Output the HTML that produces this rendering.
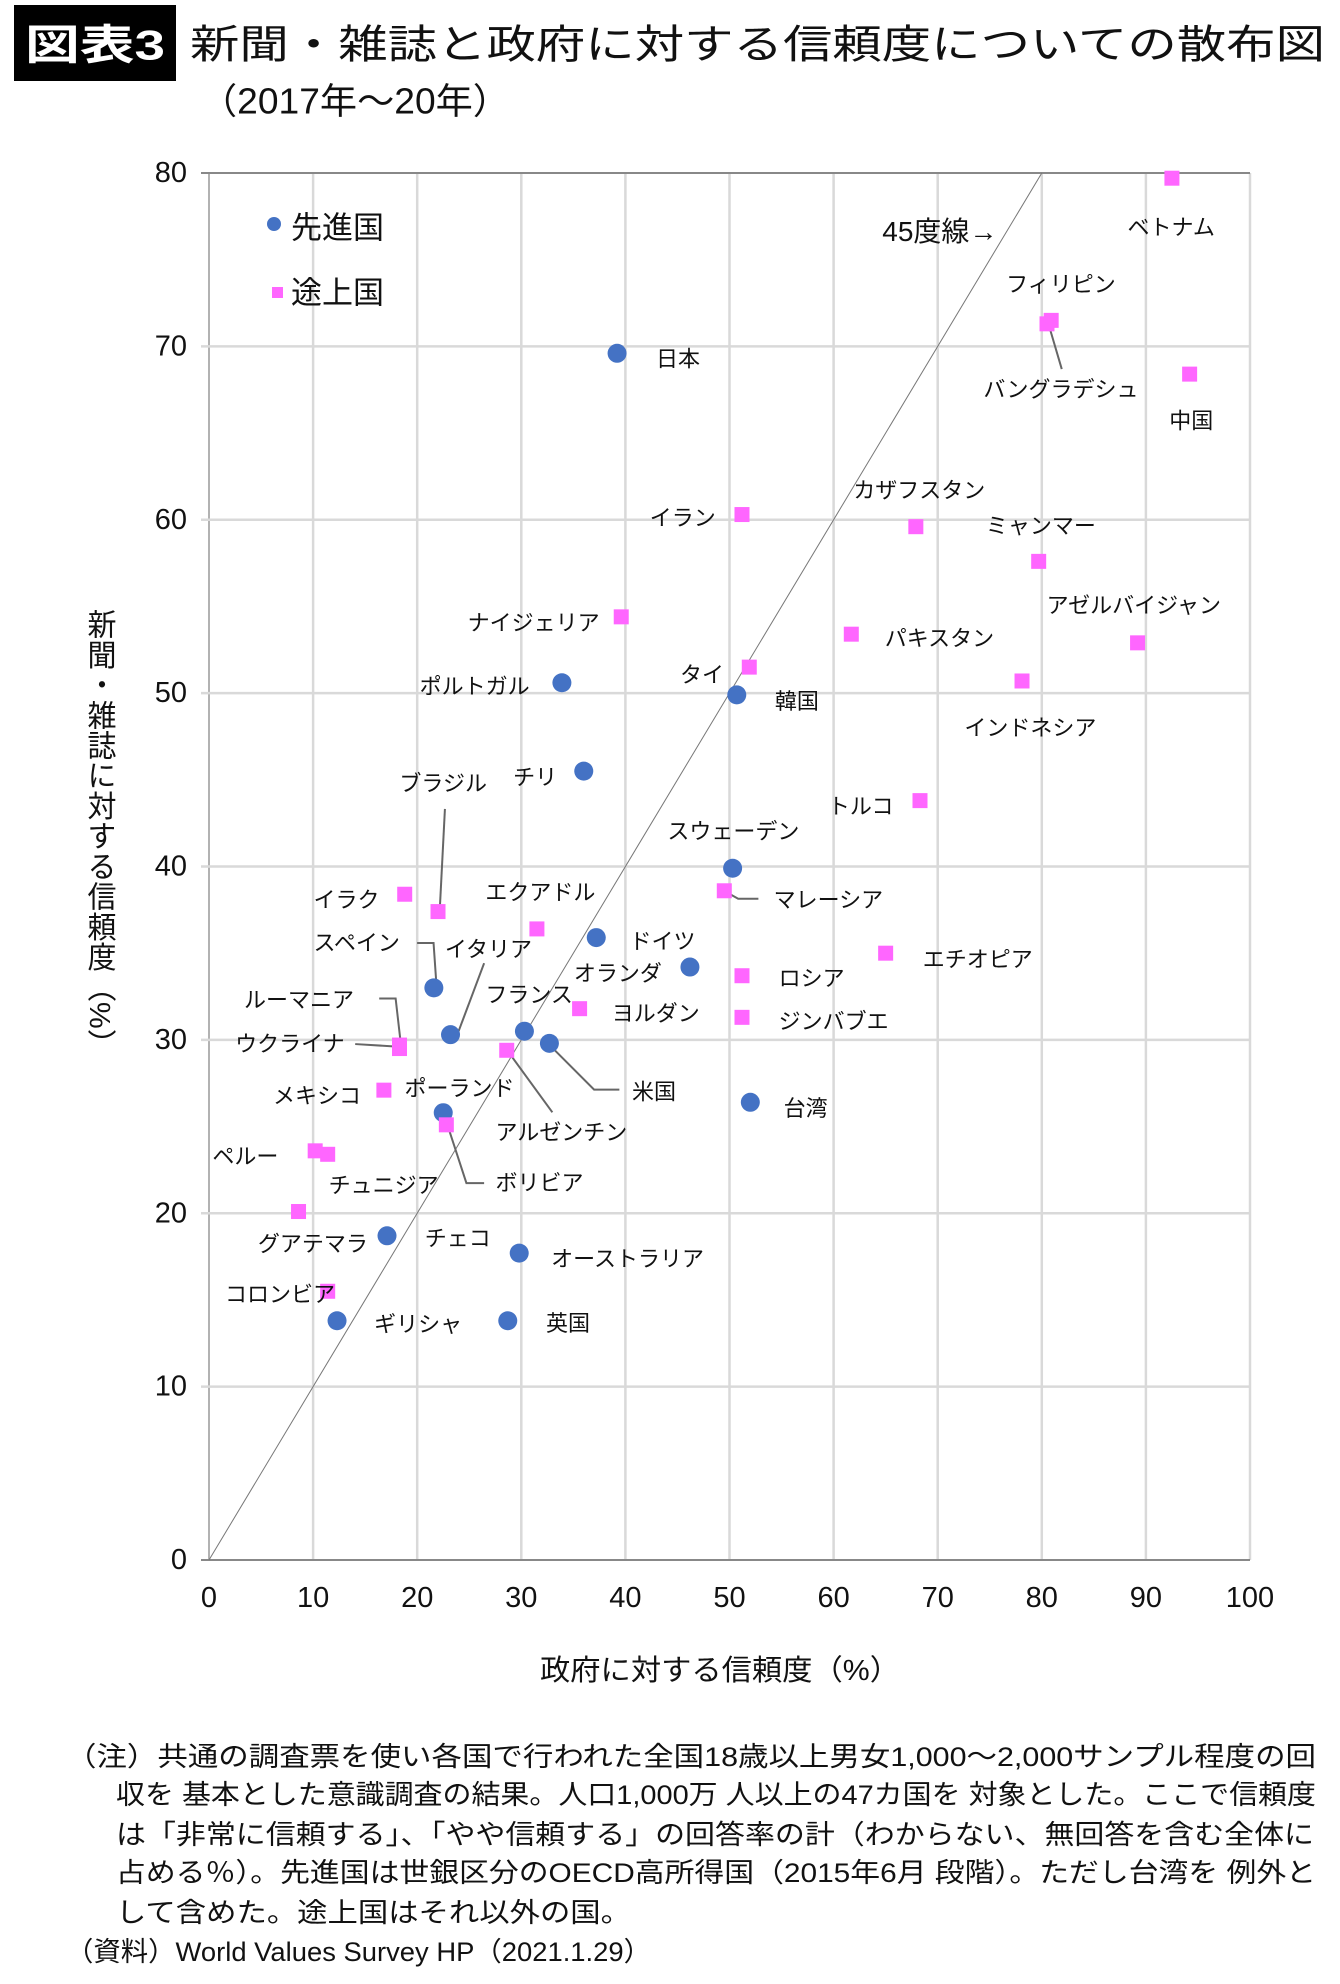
<!DOCTYPE html>
<html><head><meta charset="utf-8">
<style>
html,body{margin:0;padding:0;background:#fff;}
svg{display:block;font-family:"Liberation Sans","Noto Sans CJK JP",sans-serif;}
</style></head>
<body>
<svg id="chart" width="1340" height="1984" viewBox="0 0 1340 1984" xmlns="http://www.w3.org/2000/svg">
<rect x="0" y="0" width="1340" height="1984" fill="#fff"/>
<rect x="14" y="5" width="162" height="76" fill="#000"/>
<text x="95" y="45" fill="#fff" font-size="42" font-weight="bold" text-anchor="middle" dominant-baseline="central" textLength="140" lengthAdjust="spacingAndGlyphs">図表3</text>
<text x="190" y="45" fill="#111" font-size="40" dominant-baseline="central" textLength="1135" lengthAdjust="spacingAndGlyphs">新聞・雑誌と政府に対する信頼度についての散布図</text>
<text x="200" y="101" fill="#111" font-size="36" dominant-baseline="central" textLength="310" lengthAdjust="spacingAndGlyphs">（2017年～20年）</text>
<g id="grid"></g>
<g id="lines"></g>
<g id="marks"></g>
<g id="labels"></g>
<g>
<circle cx="274" cy="224" r="7" fill="#4472C4"/>
<text x="291" y="228" font-size="31" fill="#111" dominant-baseline="central">先進国</text>
<rect x="272" y="287" width="11" height="11" fill="#FF66FF"/>
<text x="291" y="293" font-size="31" fill="#111" dominant-baseline="central">途上国</text>
</g>
<text x="99" y="834" font-size="29" fill="#111" writing-mode="tb" text-anchor="middle" textLength="450" lengthAdjust="spacingAndGlyphs">新聞・雑誌に対する信頼度（%）</text>
<text x="720" y="1671" font-size="29" fill="#111" text-anchor="middle" dominant-baseline="central" textLength="360" lengthAdjust="spacingAndGlyphs">政府に対する信頼度（%）</text>
<g font-size="27" fill="#111">
<text x="66" y="1757" dominant-baseline="central" textLength="1250" lengthAdjust="spacingAndGlyphs">（注）共通の調査票を使い各国で行われた全国18歳以上男女1,000～2,000サンプル程度の回</text>
<text x="116" y="1795" dominant-baseline="central" textLength="1200" lengthAdjust="spacingAndGlyphs">収を 基本とした意識調査の結果。人口1,000万 人以上の47カ国を 対象とした。ここで信頼度</text>
<text x="116" y="1835" dominant-baseline="central" textLength="1198" lengthAdjust="spacingAndGlyphs">は「非常に信頼する」、「やや信頼する」の回答率の計（わからない、無回答を含む全体に</text>
<text x="116" y="1873" dominant-baseline="central" textLength="1200" lengthAdjust="spacingAndGlyphs">占める％）。先進国は世銀区分のOECD高所得国（2015年6月 段階）。ただし台湾を 例外と</text>
<text x="116" y="1913" dominant-baseline="central" textLength="515" lengthAdjust="spacingAndGlyphs">して含めた。途上国はそれ以外の国。</text>
<text x="66" y="1952" dominant-baseline="central" textLength="585" lengthAdjust="spacingAndGlyphs">（資料）World Values Survey HP（2021.1.29）</text>
</g>
</svg>
<script>
// ---- data ----
const developedNames = ["日本","ポルトガル","韓国","チリ","スウェーデン","ドイツ","オランダ","スペイン","イタリア","フランス","米国","台湾","ポーランド","チェコ","オーストラリア","ギリシャ","英国"];
const developedGov   = [39.2,33.9,50.7,36.0,50.3,37.2,46.2,21.6,23.2,30.3,32.7,52.0,22.5,17.1,29.8,12.3,28.7];
const developedPress = [69.6,50.6,49.9,45.5,39.9,35.9,34.2,33.0,30.3,30.5,29.8,26.4,25.8,18.7,17.7,13.8,13.8];
const developingNames = ["ベトナム","フィリピン","バングラデシュ","中国","イラン","カザフスタン","ミャンマー","ナイジェリア","パキスタン","アゼルバイジャン","タイ","インドネシア","トルコ","イラク","ブラジル","マレーシア","エクアドル","エチオピア","ロシア","ヨルダン","ジンバブエ","ルーマニア","ウクライナ","アルゼンチン","メキシコ","ボリビア","ペルー","チュニジア","グアテマラ","コロンビア"];
const developingGov   = [92.5,80.9,80.5,94.2,51.2,67.9,79.7,39.6,61.7,89.2,51.9,78.1,68.3,18.8,22.0,49.5,31.5,65.0,51.2,35.6,51.2,18.3,18.3,28.6,16.8,22.8,10.2,11.4,8.6,11.4];
const developingPress = [79.7,71.5,71.3,68.4,60.3,59.6,57.6,54.4,53.4,52.9,51.5,50.7,43.8,38.4,37.4,38.6,36.4,35.0,33.7,31.8,31.3,29.7,29.5,29.4,27.1,25.1,23.6,23.4,20.1,15.5];
const xTicks = [0,10,20,30,40,50,60,70,80,90,100];
const yTicks = [0,10,20,30,40,50,60,70,80];
// ---- axes ----
const X0=209, X1=1250, Y0=1560, Y1=173;
const xs = v => X0 + (v/100)*(X1-X0);
const ys = v => Y0 - (v/80)*(Y0-Y1);
const NS="http://www.w3.org/2000/svg";
function mk(tag, parent, attrs){const e=document.createElementNS(NS,tag);for(const k in attrs)e.setAttribute(k,attrs[k]);parent.appendChild(e);return e;}
const grid=document.getElementById('grid');
xTicks.forEach(t=>{
  const l=mk('line',grid,{x1:xs(t),x2:xs(t),y1:Y1,y2:Y0,stroke:t===0?'#999':'#d9d9d9','stroke-width':t===0?1.5:2.5});
  
  
  const tx=mk('text',grid,{x:xs(t),y:Y0+38,'font-size':29,'text-anchor':'middle','dominant-baseline':'central',fill:'#111'});
  tx.textContent=t;
  
  
});
yTicks.forEach(t=>{
  const l=mk('line',grid,{x1:X0-8,x2:X1,y1:ys(t),y2:ys(t),stroke:(t===0||t===80)?'#888':'#d9d9d9','stroke-width':(t===0||t===80)?2:2.5});
  
  
  const tx=mk('text',grid,{x:X0-22,y:ys(t),'font-size':29,'text-anchor':'end','dominant-baseline':'central',fill:'#111'});
  tx.textContent=t;
  
  
});
const lines=document.getElementById('lines');
const diag=mk('line',lines,{x1:xs(0),y1:ys(0),x2:xs(80),y2:ys(80),stroke:'#777','stroke-width':1});


// ---- marks ----
const marks=document.getElementById('marks');
developedGov.forEach((g,i)=>{
  const c=mk('circle',marks,{cx:xs(g),cy:ys(developedPress[i]),r:9.5,fill:'#4472C4'});
  
  
});
developingGov.forEach((g,i)=>{
  const r=mk('rect',marks,{x:xs(g)-7.5,y:ys(developingPress[i])-7.5,width:15,height:15,fill:'#FF66FF'});
  
  
});
// ---- annotation layout (display coords scaled) ----
const S=1.264;
const labelPos = {"日本":[519,284],"ポルトガル":[332,543],"韓国":[613,555],"チリ":[406,615],"スウェーデン":[528,658],"ドイツ":[498,745],"オランダ":[454,770],"スペイン":[248,746],"イタリア":[352,751],"フランス":[384,787],"米国":[500,864],"台湾":[620,877],"ポーランド":[320,861],"チェコ":[336,980],"オーストラリア":[436,996],"ギリシャ":[296,1048],"英国":[432,1047],"ベトナム":[892,180],"フィリピン":[796,225],"バングラデシュ":[778,308],"中国":[925,333],"イラン":[514,410],"カザフスタン":[675,388],"ミャンマー":[780,416],"ナイジェリア":[370,493],"パキスタン":[700,505],"アゼルバイジャン":[828,479],"タイ":[538,534],"インドネシア":[763,576],"トルコ":[655,638],"イラク":[248,712],"ブラジル":[316,620],"マレーシア":[612,712],"エクアドル":[384,706],"エチオピア":[730,759],"ロシア":[616,774],"ヨルダン":[484,802],"ジンバブエ":[616,808],"ルーマニア":[193,791],"ウクライナ":[186,826],"アルゼンチン":[392,896],"メキシコ":[216,867],"ボリビア":[392,936],"ペルー":[168,915],"チュニジア":[260,938],"グアテマラ":[204,984],"コロンビア":[178,1024]};
const labels=document.getElementById('labels');
developedNames.concat(developingNames).forEach(n=>{
  const p=labelPos[n];
  const t=mk('text',labels,{x:p[0]*S,y:p[1]*S,'font-size':22,'dominant-baseline':'central',fill:'#111'});
  t.textContent=n;
  
  
});
const t45=mk('text',labels,{x:698*S,y:183*S,'font-size':28,'dominant-baseline':'central',fill:'#111'});
t45.textContent='45度線→';


const leaders=[[[352,640],[348,718]],[[830,258],[840,292]],[[575,706],[584,711],[600,711]],[[330,746],[343,746],[345,775]],[[383,762],[362,818]],[[300,790],[313,790],[317,825]],[[281,826],[314,828]],[[402,832],[437,880]],[[436,828],[470,862],[490,862]],[[354,890],[369,936],[383,936]]];
leaders.forEach(pts=>{
  const pl=mk('polyline',lines,{points:pts.map(p=>(p[0]*S)+','+(p[1]*S)).join(' '),fill:'none',stroke:'#666','stroke-width':2});
  
  
});
</script>
</body></html>
